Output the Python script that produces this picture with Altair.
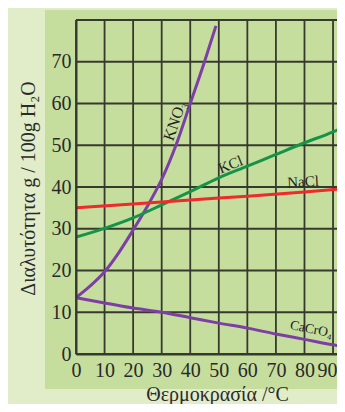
import altair as alt
import pandas as pd

# ---- data ----
kno3_t = [0, 5, 10, 15, 20, 25, 30, 35, 40, 45, 49]
kno3_v = [13.5, 16.3, 19.7, 24.3, 29.7, 35.4, 41.8, 50.0, 60.0, 70.0, 78.6]

kcl_t = [0, 10, 20, 30, 40, 50, 60, 70, 80, 90, 94.1]
kcl_v = [28.0, 30.1, 32.6, 35.7, 38.9, 42.2, 45.0, 47.8, 50.6, 53.2, 54.5]

nacl_t = [0, 20, 40, 60, 80, 94.1]
nacl_v = [35.0, 35.9, 36.9, 37.8, 38.8, 39.6]

cacro4_t = [0, 10, 20, 30, 40, 50, 60, 70, 80, 90, 94.1]
cacro4_v = [13.5, 12.2, 11.0, 10.0, 8.7, 7.4, 6.2, 4.8, 3.5, 2.2, 1.75]

x_ticks = [0, 10, 20, 30, 40, 50, 60, 70, 80, 90]
y_ticks = [0, 10, 20, 30, 40, 50, 60, 70, 80]

label_text = ["KNO₃", "KCl", "NaCl", "CaCrO₄"]
label_x = [34.6, 54.1, 79.5, 75.0]
label_y = [55.8, 45.4, 41.3, 6.9]
label_angle = [289, 338, 357, 11]
label_align = ["center", "center", "center", "left"]
label_size = [16, 15, 15, 13.5]

PLOT_W = 261
PLOT_H = 334
X_MAX = PLOT_W / 2.856
Y_MAX = 80
SERIF = "Liberation Serif"
GRID = "#363a2e"

rows = []
for name, ts, vs in [("KNO3", kno3_t, kno3_v), ("KCl", kcl_t, kcl_v),
                     ("NaCl", nacl_t, nacl_v), ("CaCrO4", cacro4_t, cacro4_v)]:
    for t, v in zip(ts, vs):
        rows.append({"series": name, "t": t, "v": v})
df = pd.DataFrame(rows)

labels = pd.DataFrame({"text": label_text, "t": label_x, "v": label_y})

xscale = alt.Scale(domain=[0, X_MAX], nice=False, zero=False)
yscale = alt.Scale(domain=[0, Y_MAX], nice=False)

xaxis = alt.Axis(values=x_ticks, title="Θερμοκρασία /°C", grid=False, zindex=1,
                 labelOverlap=False, labelFlush=False, labelPadding=6,
                 labelOffset={"condition": {"test": "datum.value == 90", "value": -6}, "value": 0},
                 titleX=141, titleY=50, titleBaseline="bottom")
yaxis = alt.Axis(values=y_ticks, title="Διαλυτότητα g / 100g H₂O", grid=False, zindex=1,
                 labelOverlap=False, labelFlush=False,
                 labelExpr="datum.value == 80 ? '' : datum.label",
                 titleX=-38, titleY=168)


def X(field):
    return alt.X(field, scale=xscale, axis=xaxis)


def Y(field):
    return alt.Y(field, scale=yscale, axis=yaxis)


panel = alt.Chart(pd.DataFrame({"a": [0]})).mark_rect(
    color="#c6de9d", clip=False
).encode(
    x=alt.value(-31), x2=alt.value(PLOT_W + 20),
    y=alt.value(-10), y2=alt.value(369)
)

vgrid = alt.Chart(pd.DataFrame({"t": x_ticks, "y0": [0] * len(x_ticks), "y1": [Y_MAX] * len(x_ticks)})).mark_rule(
    color=GRID, strokeWidth=1.8
).encode(x=X("t:Q"), y=Y("y0:Q"), y2="y1:Q")

hgrid = alt.Chart(pd.DataFrame({"v": y_ticks, "x0": [0] * len(y_ticks), "x1": [X_MAX] * len(y_ticks)})).mark_rule(
    color=GRID, strokeWidth=1.8
).encode(y=Y("v:Q"), x=X("x0:Q"), x2="x1:Q")

colors = alt.Scale(domain=["KNO3", "KCl", "NaCl", "CaCrO4"],
                   range=["#7d3fa5", "#149447", "#ee2a2a", "#7d3fa5"])

lines = alt.Chart(df).mark_line(strokeWidth=3, interpolate="monotone", clip=True).encode(
    x=X("t:Q"),
    y=Y("v:Q"),
    color=alt.Color("series:N", scale=colors, legend=None),
    detail="series:N",
)

text_layers = []
for i in range(len(label_text)):
    sub = labels.iloc[[i]]
    text_layers.append(
        alt.Chart(sub).mark_text(font=SERIF, fontSize=label_size[i], color="#222222",
                                 angle=label_angle[i], align=label_align[i],
                                 baseline="middle").encode(
            x=X("t:Q"),
            y=Y("v:Q"),
            text="text:N",
        )
    )

chart = alt.layer(panel, vgrid, hgrid, lines, *text_layers).properties(
    width=PLOT_W, height=PLOT_H,
    autosize=alt.AutoSizeParams(type="none"),
    padding={"left": 68, "top": 12, "right": 0, "bottom": 50},
    background="#e1ecc8",
).configure_view(stroke=None).configure_axis(
    domainColor=GRID, domainWidth=2,
    tickSize=0, labelPadding=5,
    labelFont=SERIF, labelFontSize=20, labelColor="#2a2a2a",
    titleFont=SERIF, titleFontSize=20, titleFontWeight="normal", titleColor="#2a2a2a",
)

chart.save("out.html", embed_options={"renderer": "svg", "actions": False})
